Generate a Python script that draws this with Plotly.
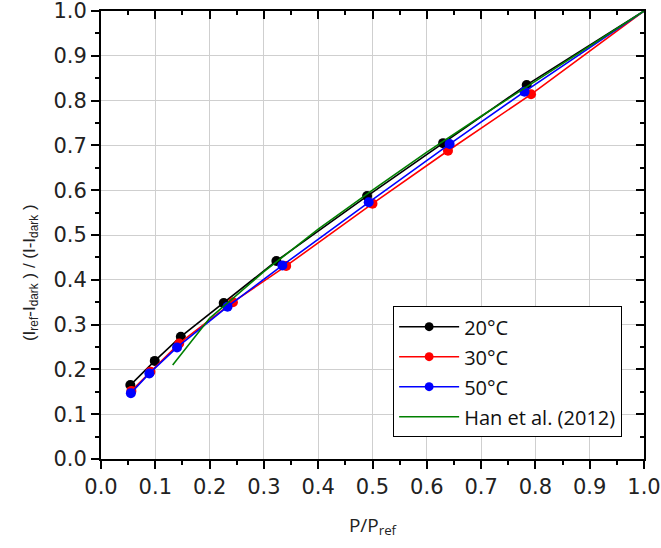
import plotly.graph_objects as go

# ---- data ----
x_20 = [0.054, 0.099, 0.147, 0.226, 0.323, 0.490, 0.630, 0.784, 1.0]
y_20 = [0.165, 0.219, 0.273, 0.348, 0.442, 0.587, 0.705, 0.835, 1.0]

x_30 = [0.056, 0.091, 0.144, 0.243, 0.341, 0.500, 0.639, 0.792, 1.0]
y_30 = [0.152, 0.195, 0.258, 0.350, 0.431, 0.570, 0.688, 0.814, 1.0]

x_50 = [0.055, 0.089, 0.140, 0.233, 0.334, 0.493, 0.642, 0.780, 1.0]
y_50 = [0.147, 0.191, 0.249, 0.340, 0.432, 0.573, 0.703, 0.820, 1.0]

x_han = [0.132, 0.2, 0.3, 0.4, 0.5, 0.6, 0.7, 0.8, 0.9, 1.0]
y_han = [0.210, 0.314, 0.418, 0.513, 0.600, 0.685, 0.765, 0.843, 0.921, 1.0]

series = [
    ("20°C", x_20, y_20, "#000000"),
    ("30°C", x_30, y_30, "#ff0000"),
    ("50°C", x_50, y_50, "#0000ff"),
]

fig = go.Figure()
for i, (name, xs, ys, col) in enumerate(series):
    sizes = [10] * (len(xs) - 1) + [0]
    fig.add_trace(go.Scatter(
        x=xs, y=ys, name=name, mode="lines+markers",
        line=dict(color=col, width=1.6),
        marker=dict(color=col, size=sizes, opacity=1, line=dict(width=0)),
        legendgroup=f"g{i}",
    ))
fig.add_trace(go.Scatter(
    x=x_han, y=y_han, name="Han et al. (2012)", mode="lines",
    line=dict(color="#008000", width=1.6), legendgroup="g3",
))

# invisible helper so the mirrored (inside-tick) top/right axes are drawn
fig.add_trace(go.Scatter(x=[None], y=[None], xaxis="x2", yaxis="y2",
                         showlegend=False, hoverinfo="skip"))

tickfont = dict(family="DejaVu Sans", size=21, color="#222222")
grid = "#cfcfcf"
rng = [0, 1.00001]

common = dict(
    range=rng, dtick=0.1, tick0=0, automargin=False,
    showline=True, linecolor="black", linewidth=2,
    tickwidth=2, tickcolor="black", ticklen=8, zeroline=False,
)

fig.update_layout(
    width=661, height=548,
    margin=dict(l=101, r=17, t=11, b=89, autoexpand=False),
    paper_bgcolor="white", plot_bgcolor="white",
    showlegend=True,
    xaxis=dict(
        **common, tickformat=".1f", ticks="outside",
        ticklabeloverflow="allow",
        minor=dict(dtick=0.05, ticks="outside", ticklen=4, tickwidth=2,
                   tickcolor="black", showgrid=False),
        showgrid=True, gridcolor=grid, gridwidth=1,
        tickfont=tickfont,
        title=dict(text="P/P<sub>ref</sub>",
                   font=dict(family="Open Sans", size=19, color="#222222"),
                   standoff=20),
    ),
    yaxis=dict(
        **common, tickformat=".1f", ticks="outside",
        ticklabeloverflow="allow",
        minor=dict(dtick=0.05, ticks="outside", ticklen=4, tickwidth=2,
                   tickcolor="black", showgrid=False),
        showgrid=True, gridcolor=grid, gridwidth=1,
        tickfont=tickfont,
    ),
    xaxis2=dict(
        **common, overlaying="x", side="top", anchor="y", ticks="inside",
        minor=dict(dtick=0.05, ticks="inside", ticklen=4, tickwidth=2,
                   tickcolor="black", showgrid=False),
        showticklabels=False, showgrid=False,
    ),
    yaxis2=dict(
        **common, overlaying="y", side="right", anchor="x", ticks="inside",
        minor=dict(dtick=0.05, ticks="inside", ticklen=4, tickwidth=2,
                   tickcolor="black", showgrid=False),
        showticklabels=False, showgrid=False,
    ),
    legend=dict(
        x=0.538, y=0.341, xanchor="left", yanchor="top",
        bgcolor="white", bordercolor="black", borderwidth=1,
        font=dict(family="Open Sans", size=20, color="#111111"),
        traceorder="grouped", tracegroupgap=1, itemwidth=60,
    ),
    annotations=[dict(
        text="(I<sub>ref</sub>-I<sub>dark</sub> ) / (I-I<sub>dark</sub> )",
        xref="paper", yref="paper", x=-0.13, y=0.416,
        xanchor="center", yanchor="middle", textangle=-90, showarrow=False,
        font=dict(family="Liberation Sans", size=17, color="#222222"),
    )],
)

fig.write_html("out.html")
